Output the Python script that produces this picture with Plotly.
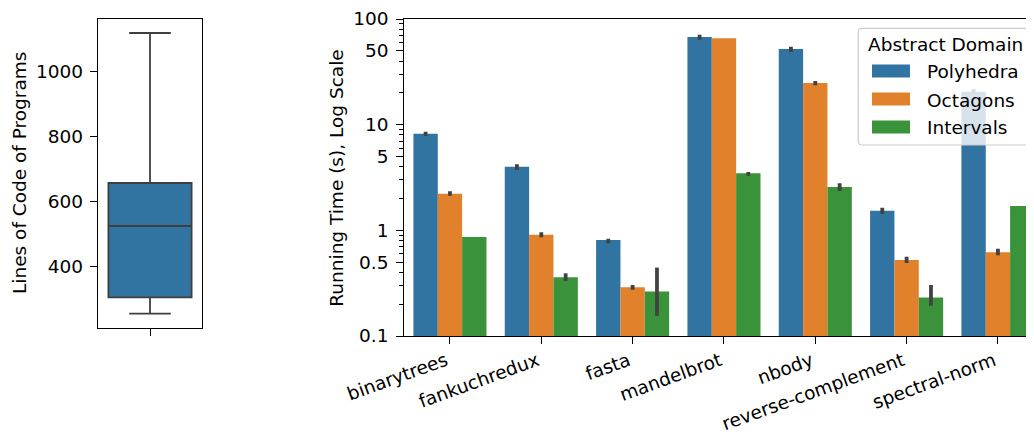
import plotly.graph_objects as go

# ---------------- data ----------------
programs = ["binarytrees", "fankuchredux", "fasta", "mandelbrot", "nbody",
            "reverse-complement", "spectral-norm"]
domains = ["Polyhedra", "Octagons", "Intervals"]
colors = ["#3274a1", "#e1812c", "#3a923a"]

polyhedra = [8.22, 4.00, 0.81, 67.6, 52.0, 1.53, 20.5]
polyhedra_hi = [8.58, 4.22, 0.834, 71.0, 54.7, 1.64, 21.6]
polyhedra_lo = [7.81, 3.72, 0.754, 63.7, 48.7, 1.43, 19.8]

octagons = [2.22, 0.91, 0.289, 65.6, 24.8, 0.524, 0.619]
octagons_hi = [2.34, 0.958, 0.304, 65.6, 25.9, 0.563, 0.670]
octagons_lo = [2.13, 0.859, 0.274, 65.6, 23.6, 0.491, 0.581]

intervals = [0.865, 0.359, 0.263, 3.47, 2.57, 0.231, 1.70]
intervals_hi = [0.865, 0.392, 0.444, 3.57, 2.79, 0.304, 1.70]
intervals_lo = [0.865, 0.332, 0.155, 3.29, 2.36, 0.1935, 1.70]

series = [
    (polyhedra, polyhedra_hi, polyhedra_lo),
    (octagons, octagons_hi, octagons_lo),
    (intervals, intervals_hi, intervals_lo),
]

# box plot summary (lines of code)
loc_q1 = 305.8
loc_median = 525.2
loc_q3 = 657.5
loc_lowerfence = 255.4
loc_upperfence = 1119.0

y_major = [0.1, 0.5, 1, 5, 10, 50, 100]
y_major_text = ["0.1", "0.5", "1", "5", "10", "50", "100"]
y_minor = [0.2, 0.3, 0.4, 0.6, 0.7, 0.8, 0.9, 2, 3, 4, 6, 7, 8, 9,
           20, 30, 40, 60, 70, 80, 90]
loc_ticks = [400, 600, 800, 1000]

# ---------------- layout helpers ----------------
# the page body has an 8px margin, so the figure starts at (8, 8)
OFF = 8
W, H = 1034 - OFF, 432 - OFF
FONT = "DejaVu Sans"
FS = 18.5


def px(p):
    return (p - OFF) / W


def py(p):
    return 1 - (p - OFF) / H


fig = go.Figure()

# bars
for name, col, (vals, hi, lo) in zip(domains, colors, series):
    fig.add_trace(go.Bar(
        x=programs, y=vals, name=name,
        marker=dict(color=col, line=dict(width=0)),
        error_y=dict(type="data", symmetric=False,
                     array=[h - v for h, v in zip(hi, vals)],
                     arrayminus=[v - l for v, l in zip(vals, lo)],
                     color="#424242", thickness=3.8, width=0),
        xaxis="x", yaxis="y", showlegend=False,
    ))

# box
fig.add_trace(go.Box(
    x=[0], q1=[loc_q1], median=[loc_median], q3=[loc_q3],
    lowerfence=[loc_lowerfence], upperfence=[loc_upperfence],
    width=0.8, whiskerwidth=0.5,
    fillcolor="#3274a1", line=dict(color="#3f3f3f", width=1.8),
    xaxis="x2", yaxis="y2", showlegend=False, boxpoints=False,
))

axis_common = dict(showline=True, linecolor="black", linewidth=1.3,
                   ticks="outside", tickcolor="black", tickwidth=1.3,
                   ticklen=7, showgrid=False, zeroline=False,
                   tickfont=dict(family=FONT, size=FS, color="black"),
                   automargin=False)

x_hi = -0.5 + (1034 - 404.3) / 91.33

fig.update_layout(
    width=W, height=H,
    margin=dict(l=0, r=0, t=0, b=0),
    plot_bgcolor="white", paper_bgcolor="white",
    font=dict(family=FONT, size=FS, color="black"),
    barmode="group", bargap=0.2, bargroupgap=0,
    xaxis=dict(domain=[px(404.3), 1.0], range=[-0.5, x_hi],
               mirror=True, tickangle=-20, ticklabelstandoff=-1,
               ticklabelshift=-4, **axis_common),
    yaxis=dict(domain=[py(336), py(19)], type="log",
               range=[-1, 2], tickvals=y_major, ticktext=y_major_text,
               ticklabelstandoff=4,
               minor=dict(tickvals=y_minor, ticks="outside", ticklen=3.7,
                          tickwidth=1.1, tickcolor="black", showgrid=False),
               **axis_common),
    xaxis2=dict(domain=[px(98), px(202)], range=[-0.5, 0.5],
                tickvals=[0], ticktext=[""], mirror=True, anchor="y2",
                **axis_common),
    yaxis2=dict(domain=[py(327.7), py(19)], range=[212.3, 1162],
                tickvals=loc_ticks, mirror=True, anchor="x2",
                ticklabelstandoff=3, **axis_common),
)

# axis titles
fig.add_annotation(text="Lines of Code of Programs", textangle=-90,
                   x=px(19.5), y=py(173.5), xref="paper", yref="paper",
                   showarrow=False, xanchor="center", yanchor="middle",
                   font=dict(family=FONT, size=FS, color="black"))
fig.add_annotation(text="Running Time (s), Log Scale", textangle=-90,
                   x=px(335.7), y=py(178), xref="paper", yref="paper",
                   showarrow=False, xanchor="center", yanchor="middle",
                   font=dict(family=FONT, size=FS, color="black"))

# manual legend (matplotlib-style)
lx0, lx1, ly0, ly1, r = 858.3, 1032.5, 28.3, 145.0, 4.0
path = (f"M {px(lx0 + r)},{py(ly0)} L {px(lx1 - r)},{py(ly0)} "
        f"Q {px(lx1)},{py(ly0)} {px(lx1)},{py(ly0 + r)} "
        f"L {px(lx1)},{py(ly1 - r)} Q {px(lx1)},{py(ly1)} {px(lx1 - r)},{py(ly1)} "
        f"L {px(lx0 + r)},{py(ly1)} Q {px(lx0)},{py(ly1)} {px(lx0)},{py(ly1 - r)} "
        f"L {px(lx0)},{py(ly0 + r)} Q {px(lx0)},{py(ly0)} {px(lx0 + r)},{py(ly0)} Z")
fig.add_shape(type="path", path=path, xref="paper", yref="paper",
              fillcolor="rgba(255,255,255,0.8)",
              line=dict(color="#cccccc", width=1.2), layer="above")
fig.add_annotation(text="Abstract Domain", x=px((lx0 + lx1) / 2), y=py(44.3),
                   xref="paper", yref="paper", showarrow=False,
                   xanchor="center", yanchor="middle",
                   font=dict(family=FONT, size=FS, color="black"))
row_centers = [71.0, 99.0, 127.0]
for name, col, yc in zip(domains, colors, row_centers):
    fig.add_shape(type="rect", xref="paper", yref="paper",
                  x0=px(872), x1=px(910), y0=py(yc + 6.6), y1=py(yc - 6.6),
                  fillcolor=col, line=dict(width=0), layer="above")
    fig.add_annotation(text=name, x=px(925), y=py(yc + 1), xref="paper",
                       yref="paper", showarrow=False, xanchor="left",
                       yanchor="middle",
                       font=dict(family=FONT, size=FS, color="black"))

fig.write_html("out.html")
